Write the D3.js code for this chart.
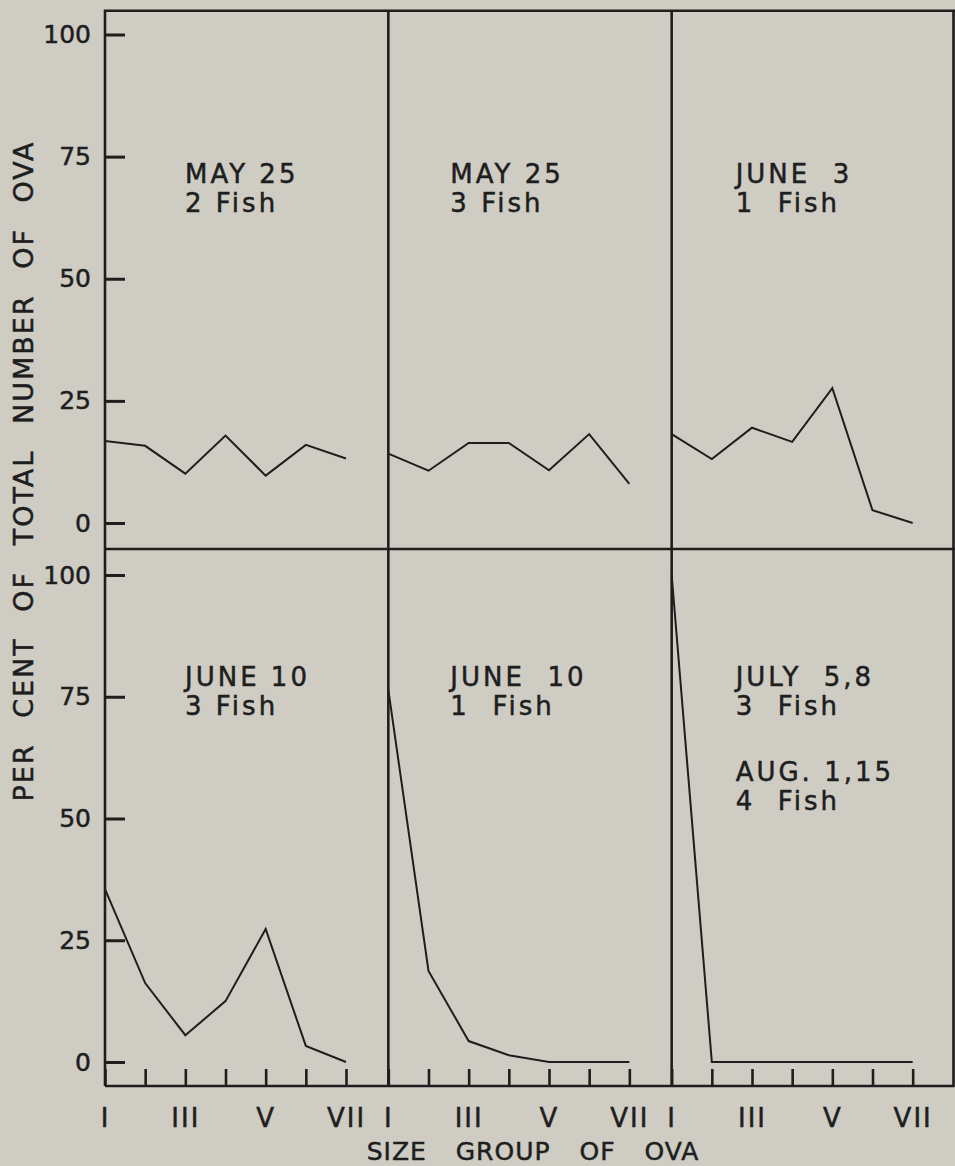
<!DOCTYPE html>
<html>
<head>
<meta charset="utf-8">
<script src="https://cdn.jsdelivr.net/npm/d3@7"></script>
<style>
  body { margin: 0; background: #cfcdc3; }
  svg { display: block; }
  text { font-family: "DejaVu Sans", sans-serif; fill: #1e1e1e; stroke: #1e1e1e; stroke-width: 0.5; }
</style>
</head>
<body>
<svg width="955" height="1166"></svg>
<script>
// size groups of ova along the x axis, only odd ones get a label
const sizeGroups = ["I", "II", "III", "IV", "V", "VI", "VII"]
const yTicks = [0, 25, 50, 75, 100]

// per cent of total number of ova, one array per panel
const may25a = [16.8, 15.8, 10.1, 17.9, 9.7, 16.0, 13.2]
const may25b = [14.2, 10.7, 16.4, 16.4, 10.8, 18.2, 8.0]
const june3 = [18.2, 13.1, 19.5, 16.6, 27.6, 2.6, 0]
const june10a = [35.5, 16.2, 5.5, 12.5, 27.3, 3.3, 0]
const june10b = [76.4, 18.7, 4.3, 1.4, 0, 0, 0]
const julyAug = [100, 0, 0, 0, 0, 0, 0]

const panelSeries = [may25a, may25b, june3, june10a, june10b, julyAug]
const panelLabels = [
    [["MAY 25", "2 Fish"]],
    [["MAY 25", "3 Fish"]],
    [["JUNE  3", "1  Fish"]],
    [["JUNE 10", "3 Fish"]],
    [["JUNE  10", "1  Fish"]],
    [["JULY  5,8", "3  Fish"], ["AUG. 1,15", "4  Fish"]],
]

const svg = d3.select("svg")
const ink = "#1e1e1e"

const frameL = 105, frameR = 953.5, frameT = 10.7, frameM = 549, frameB = 1086

// columns of panels
const col = d3.scaleLinear().domain([0, 3]).range([105, 955])
const xIn = d3.scalePoint().domain(sizeGroups).range([0, 241])

// one y scale per row
const rows = [
    d3.scaleLinear().domain([0, 100]).range([523, 34.5]),
    d3.scaleLinear().domain([0, 100]).range([1062, 575]),
]

// frame and dividers
const frame = svg.append("g")
    .attr("stroke", ink)
    .attr("stroke-width", 2.6)
    .attr("fill", "none")
frame.append("path").attr("d", `M${frameL},${frameB}V${frameT}H955`)
frame.append("path").attr("d", `M${frameL},${frameB}H${frameR}V${frameT}`)
frame.append("path").attr("d", `M${frameL},${frameM}H955`)
frame.selectAll("line.div")
    .data([1, 2])
    .enter()
    .append("line")
    .attr("x1", d => col(d))
    .attr("x2", d => col(d))
    .attr("y1", frameT)
    .attr("y2", frameB)

// y axes on the left
rows.forEach(y => {
    const g = svg.append("g")
        .attr("transform", `translate(${frameL},0)`)
        .call(d3.axisLeft(y)
            .tickValues(yTicks)
            .tickSizeInner(-20)
            .tickSizeOuter(0)
            .tickPadding(14))
    g.select(".domain").remove()
    g.selectAll(".tick line").attr("stroke", ink).attr("stroke-width", 3)
    g.selectAll(".tick text")
        .attr("font-size", 25)
        .attr("font-family", "DejaVu Sans, sans-serif")
        .attr("fill", ink)
})

// x axes, one per column
d3.range(3).forEach(c => {
    const g = svg.append("g")
        .attr("transform", `translate(${col(c)},${frameB})`)
        .call(d3.axisBottom(xIn)
            .tickSizeInner(-17)
            .tickSizeOuter(0)
            .tickPadding(23)
            .tickFormat((d, i) => i % 2 === 0 ? d : ""))
    g.select(".domain").remove()
    g.selectAll(".tick line").attr("stroke", ink).attr("stroke-width", 2.6)
    g.selectAll(".tick text")
        .attr("font-size", 26)
        .attr("font-family", "DejaVu Sans, sans-serif")
        .attr("fill", ink)
        .attr("letter-spacing", 2)
})

// data lines and panel labels
const lineBaselines = [183, 686]
const textOffsets = [80, 62, 64]
const blockBaselines = [0, 95]

panelSeries.forEach((values, p) => {
    const c = p % 3, r = Math.floor(p / 3)
    const y = rows[r]
    const line = d3.line()
        .x((d, i) => col(c) + xIn(sizeGroups[i]))
        .y(d => y(d))

    svg.append("path")
        .datum(values)
        .attr("fill", "none")
        .attr("stroke", ink)
        .attr("stroke-width", 2)
        .attr("stroke-linejoin", "miter")
        .attr("d", line)

    panelLabels[p].forEach((block, b) => {
        const t = svg.append("text")
            .attr("x", col(c) + textOffsets[c])
            .attr("y", lineBaselines[r] + blockBaselines[b])
            .attr("font-size", 26)
            .attr("letter-spacing", 3)
            .style("white-space", "pre")
        block.forEach((s, i) => {
            t.append("tspan")
                .attr("x", col(c) + textOffsets[c])
                .attr("dy", i === 0 ? 0 : 29)
                .text(s)
        })
    })
})

// axis titles
svg.append("text")
    .attr("transform", "translate(33,471) rotate(-90)")
    .attr("text-anchor", "middle")
    .attr("font-size", 27)
    .attr("letter-spacing", 2)
    .attr("word-spacing", 15)
    .text("PER CENT OF TOTAL NUMBER OF OVA")

svg.append("text")
    .attr("x", 533)
    .attr("y", 1160)
    .attr("text-anchor", "middle")
    .attr("font-size", 25)
    .attr("letter-spacing", 1)
    .attr("word-spacing", 20)
    .text("SIZE GROUP OF OVA")
</script>
</body>
</html>
